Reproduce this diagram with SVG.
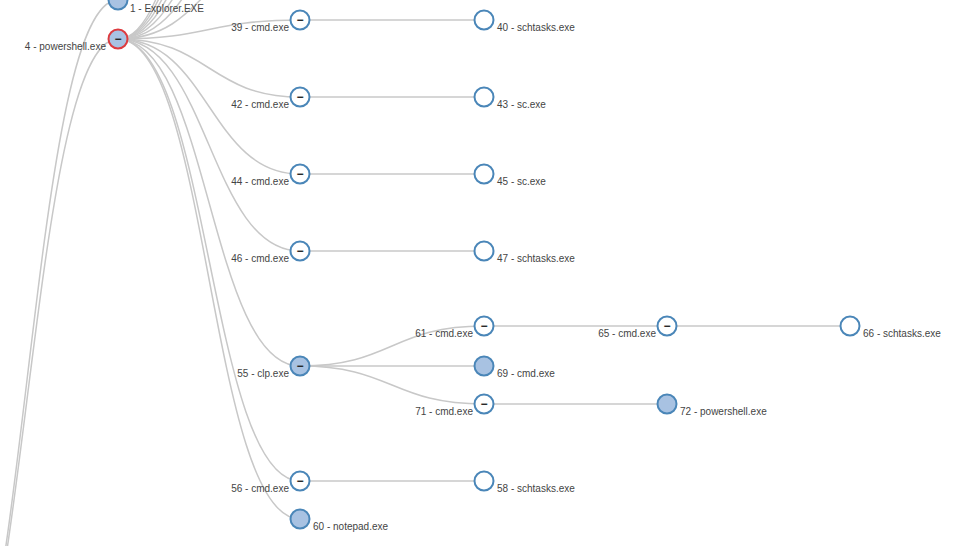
<svg xmlns="http://www.w3.org/2000/svg" width="954" height="546" viewBox="0 0 954 546">
<style>
  .link { fill: none; stroke: #c8c8c8; stroke-width: 1.5; }
  .node circle { stroke: #4a86b8; stroke-width: 2; fill: #ffffff; }
  .node circle.filled { fill: #a8c2e2; }
  .node circle.root { stroke: #dd3b3f; }
  .label { font-family: "Liberation Sans", Arial, sans-serif; font-size: 10px; fill: #444444; }
  .end { text-anchor: end; }
  .tog { font-family: "Liberation Sans", Arial, sans-serif; font-size: 12px; font-weight: bold; fill: #222222; text-anchor: middle; }
</style>
<rect width="954" height="546" fill="#ffffff"/>
<g id="connectors">
  <path class="link" d="M-64,760 C27,760 27,0 118,0"/>
  <path class="link" d="M-64,760 C27,760 27,39 118,39"/>
  <path class="link" d="M118,39 C209,39 209,-57 300,-57"/>
  <path class="link" d="M118,39 C209,39 209,-134 300,-134"/>
  <path class="link" d="M118,39 C209,39 209,-211 300,-211"/>
  <path class="link" d="M118,39 C209,39 209,-288 300,-288"/>
  <path class="link" d="M118,39 C209,39 209,-365 300,-365"/>
  <path class="link" d="M118,39 C209,39 209,-442 300,-442"/>
  <path class="link" d="M118,39 C209,39 209,-519 300,-519"/>
  <path class="link" d="M118,39 C209,39 209,20 300,20"/>
  <path class="link" d="M118,39 C209,39 209,97 300,97"/>
  <path class="link" d="M118,39 C209,39 209,174 300,174"/>
  <path class="link" d="M118,39 C209,39 209,251 300,251"/>
  <path class="link" d="M118,39 C209,39 209,366 300,366"/>
  <path class="link" d="M118,39 C209,39 209,481 300,481"/>
  <path class="link" d="M118,39 C209,39 209,519 300,519"/>
  <path class="link" d="M300,20 L484,20"/>
  <path class="link" d="M300,97 L484,97"/>
  <path class="link" d="M300,174 L484,174"/>
  <path class="link" d="M300,251 L484,251"/>
  <path class="link" d="M300,366 C392,366 392,326 484,326"/>
  <path class="link" d="M300,366 L484,366"/>
  <path class="link" d="M300,366 C392,366 392,404 484,404"/>
  <path class="link" d="M484,326 L667,326"/>
  <path class="link" d="M667,326 L850,326"/>
  <path class="link" d="M484,404 L667,404"/>
  <path class="link" d="M300,481 L484,481"/>
</g>
<g id="n1" class="node"><circle class="filled" cx="118" cy="0" r="9.5"/><text class="label" x="130" y="12">1 - Explorer.EXE</text></g>
<g id="n4" class="node"><circle class="filled root" cx="118" cy="39" r="9.5"/><text class="tog" x="118" y="43">−</text><text class="label end" x="106" y="50">4 - powershell.exe</text></g>
<g id="n39" class="node"><circle cx="300" cy="20" r="9.5"/><text class="tog" x="300" y="24">−</text><text class="label end" x="289" y="31">39 - cmd.exe</text></g>
<g id="n40" class="node"><circle cx="484" cy="20" r="9.5"/><text class="label" x="497" y="31">40 - schtasks.exe</text></g>
<g id="n42" class="node"><circle cx="300" cy="97" r="9.5"/><text class="tog" x="300" y="101">−</text><text class="label end" x="289" y="108">42 - cmd.exe</text></g>
<g id="n43" class="node"><circle cx="484" cy="97" r="9.5"/><text class="label" x="497" y="108">43 - sc.exe</text></g>
<g id="n44" class="node"><circle cx="300" cy="174" r="9.5"/><text class="tog" x="300" y="178">−</text><text class="label end" x="289" y="185">44 - cmd.exe</text></g>
<g id="n45" class="node"><circle cx="484" cy="174" r="9.5"/><text class="label" x="497" y="185">45 - sc.exe</text></g>
<g id="n46" class="node"><circle cx="300" cy="251" r="9.5"/><text class="tog" x="300" y="255">−</text><text class="label end" x="289" y="262">46 - cmd.exe</text></g>
<g id="n47" class="node"><circle cx="484" cy="251" r="9.5"/><text class="label" x="497" y="262">47 - schtasks.exe</text></g>
<g id="n55" class="node"><circle class="filled" cx="300" cy="366" r="9.5"/><text class="tog" x="300" y="370">−</text><text class="label end" x="289" y="377">55 - clp.exe</text></g>
<g id="n61" class="node"><circle cx="484" cy="326" r="9.5"/><text class="tog" x="484" y="330">−</text><text class="label end" x="473" y="337">61 - cmd.exe</text></g>
<g id="n65" class="node"><circle cx="667" cy="326" r="9.5"/><text class="tog" x="667" y="330">−</text><text class="label end" x="656" y="337">65 - cmd.exe</text></g>
<g id="n66" class="node"><circle cx="850" cy="326" r="9.5"/><text class="label" x="863" y="337">66 - schtasks.exe</text></g>
<g id="n69" class="node"><circle class="filled" cx="484" cy="366" r="9.5"/><text class="label" x="497" y="377">69 - cmd.exe</text></g>
<g id="n71" class="node"><circle cx="484" cy="404" r="9.5"/><text class="tog" x="484" y="408">−</text><text class="label end" x="473" y="415">71 - cmd.exe</text></g>
<g id="n72" class="node"><circle class="filled" cx="667" cy="404" r="9.5"/><text class="label" x="680" y="415">72 - powershell.exe</text></g>
<g id="n56" class="node"><circle cx="300" cy="481" r="9.5"/><text class="tog" x="300" y="485">−</text><text class="label end" x="289" y="492">56 - cmd.exe</text></g>
<g id="n58" class="node"><circle cx="484" cy="481" r="9.5"/><text class="label" x="497" y="492">58 - schtasks.exe</text></g>
<g id="n60" class="node"><circle class="filled" cx="300" cy="519" r="9.5"/><text class="label" x="313" y="530">60 - notepad.exe</text></g>
</svg>
